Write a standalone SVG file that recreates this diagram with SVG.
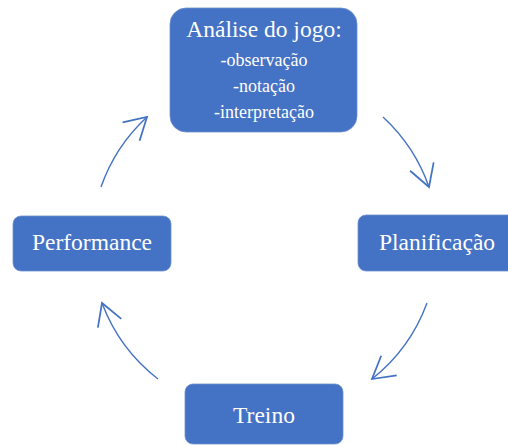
<svg xmlns="http://www.w3.org/2000/svg" width="508" height="446" viewBox="0 0 508 446">
<defs>
<style>
.box{fill:#4472C4;stroke:#6E8FD0;stroke-width:0.8}
text{fill:#ffffff;text-anchor:middle;font-family:'Liberation Serif','Times New Roman',Times,serif}
.big{font-size:23.5px}
.small{font-size:18px}
.arc{fill:none;stroke:#4472C4;stroke-width:1.4;marker-end:url(#ah)}
</style>
<marker id="ah" markerUnits="userSpaceOnUse" markerWidth="30" markerHeight="30" viewBox="-20 -12 22 24" refX="0" refY="0" orient="auto">
<path d="M -17.3 -10 L 0 0 L -17.3 10" fill="none" stroke="#4472C4" stroke-width="1.4"/>
</marker>
</defs>
<rect width="508" height="446" fill="#ffffff"/>
<g id="connectors">
<path class="arc" d="M 101 187 A 173 173 0 0 1 147 117"/>
<path class="arc" d="M 383 117 A 173 173 0 0 1 429 187"/>
<path class="arc" d="M 427 303 A 173 173 0 0 1 372 379"/>
<path class="arc" d="M 158 379 A 173 173 0 0 1 102 303"/>
</g>
<g id="analise">
<rect class="box" x="170" y="8" width="187" height="124" rx="16"/>
<text class="big" x="264" y="37">Análise do jogo:</text>
<text class="small" x="264" y="66">-observação</text>
<text class="small" x="264" y="92">-notação</text>
<text class="small" x="264" y="118">-interpretação</text>
</g>
<g id="planificacao">
<rect class="box" x="358" y="215" width="158" height="56" rx="8"/>
<text class="big" x="437" y="250">Planificação</text>
</g>
<g id="treino">
<rect class="box" x="185" y="384" width="158" height="60" rx="8"/>
<text class="big" x="264" y="423">Treino</text>
</g>
<g id="performance">
<rect class="box" x="13" y="216" width="158" height="55" rx="8"/>
<text class="big" x="92" y="250">Performance</text>
</g>
</svg>
